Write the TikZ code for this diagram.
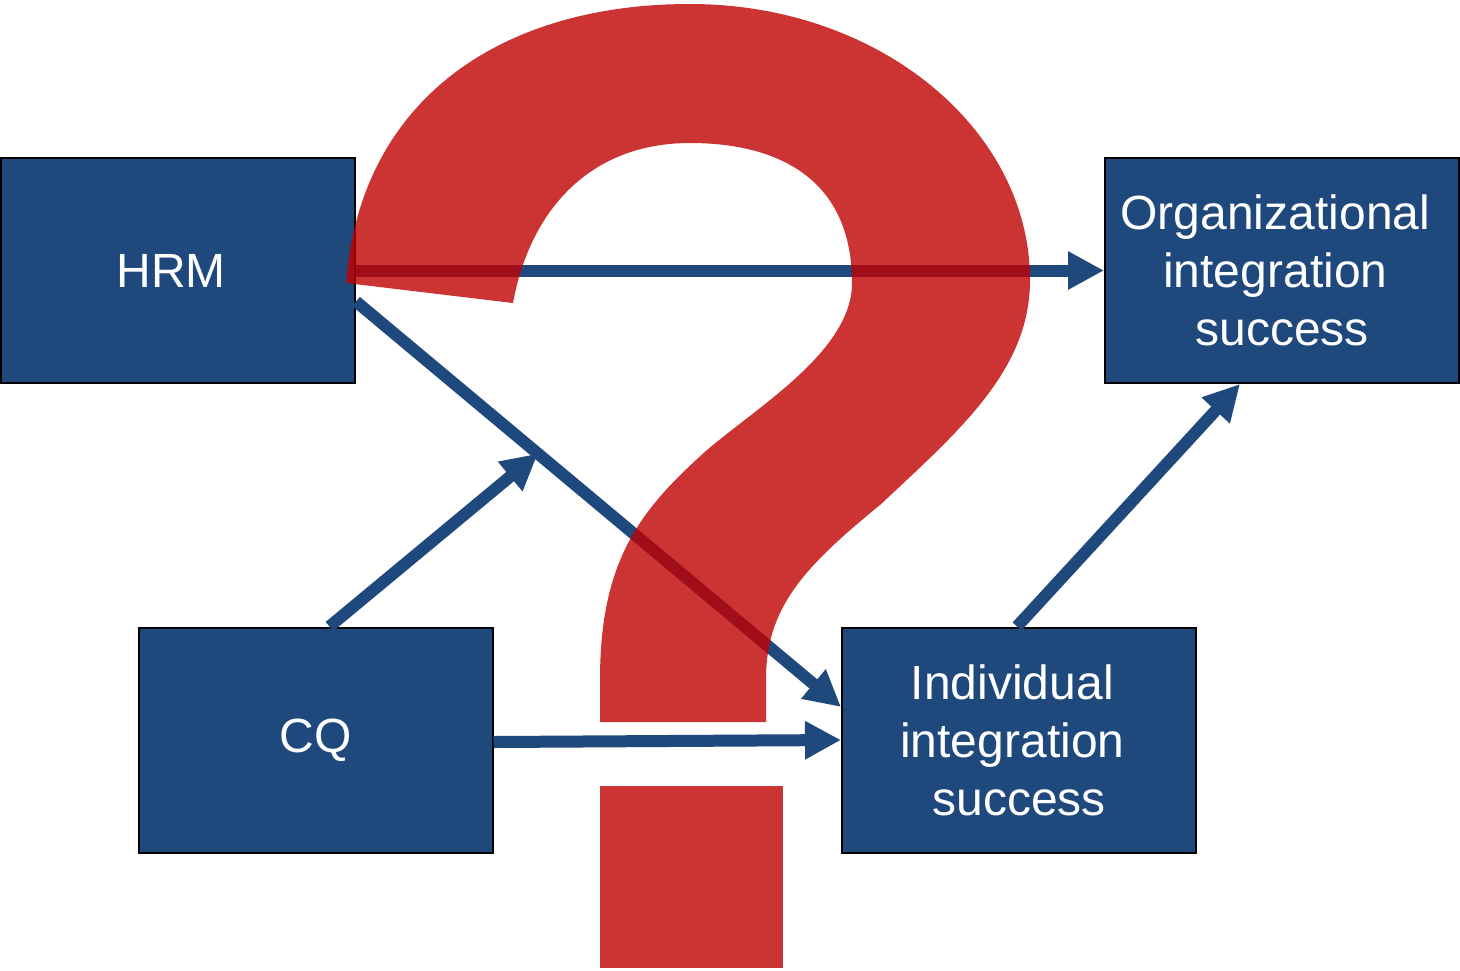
\documentclass[tikz,border=0pt]{standalone}
\usepackage{fontspec}
\setmainfont{Liberation Sans}
\usetikzlibrary{arrows.meta,calc}

\definecolor{boxblue}{HTML}{1F497D}
\definecolor{qred}{HTML}{BF0000}
\newcommand{\trail}{\kern0.278em}

\tikzset{
  box/.style={draw=black, line width=1pt, fill=boxblue, text=white,
    minimum width=177pt, minimum height=112.5pt, inner sep=0pt,
    align=center, font=\fontsize{24pt}{29pt}\selectfont},
  link/.style={boxblue, line width=6pt, -{Triangle[length=18pt,width=18pt]}},
  qmark/.style={qred, fill opacity=0.8}
}

\begin{document}
\begin{tikzpicture}[x=0.5pt,y=-0.5pt]

\useasboundingbox (0,0) rectangle (1460,970);

\node[box] (hrm) at (178,270.5) {HRM\trail};
\node[box] (org) at (1282,270.5) {Organizational\trail\\integration\trail\\success};
\node[box] (cq) at (315.5,740) {CQ};
\node[box] (ind) at (1019,740) {Individual\trail\\integration\trail\\success};

\coordinate (hrmout) at ([yshift=-15.5pt]hrm.east);
\coordinate (indin) at ([yshift=16.5pt]ind.west);
\coordinate (mod) at ($(hrmout)!0.375!(indin)$);

\draw[link] (hrm.east) -- (org.west);
\draw[link] (hrmout) -- (indin);
\draw[link] ([xshift=7pt]cq.north) -- (mod);
\draw[link] ([yshift=-1pt]cq.east) -- (ind.west);
\draw[link] ([xshift=-1pt]ind.north) -- ([xshift=-21pt]org.south);

\fill[qmark] (346,283) .. controls (360,100) and (500,4) .. (690,4)
  .. controls (880,4) and (1030,130) .. (1030,280)
  .. controls (1030,370) and (960,430) .. (880,505)
  .. controls (800,570) and (766,610) .. (766,680)
  -- (766,722) -- (600,722) -- (600,680)
  .. controls (600,560) and (640,510) .. (707,450)
  .. controls (760,405) and (852,350) .. (852,283)
  .. controls (852,180) and (780,143) .. (690,143)
  .. controls (590,143) and (530,210) .. (513,303)
  -- cycle;
\fill[qmark] (600,786) rectangle (783,968);

\end{tikzpicture}
\end{document}
